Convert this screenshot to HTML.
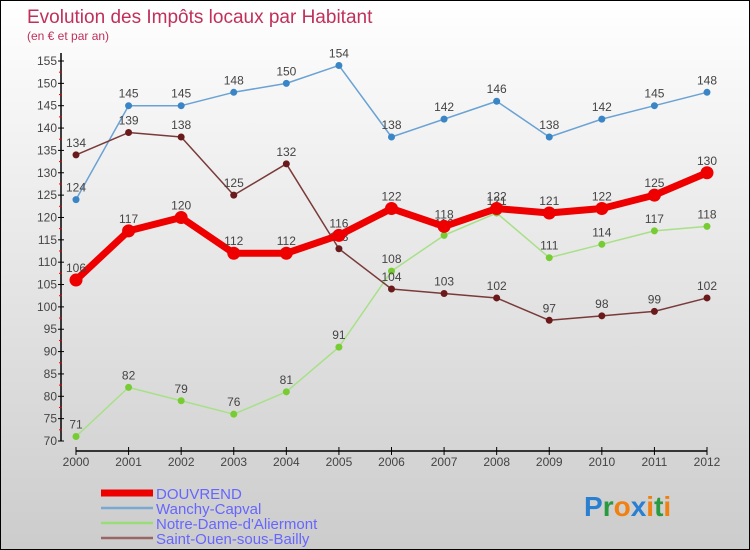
<!DOCTYPE html>
<html><head><meta charset="utf-8"><style>
body{margin:0;}
#wrap{width:750px;height:550px;position:relative;box-sizing:border-box;border:1px solid #000;background:linear-gradient(#ffffff,#f2f2f2 25%,#cccccc);font-family:"Liberation Sans",sans-serif;overflow:hidden;}
svg{position:absolute;left:0;top:0;}
</style></head><body>
<div id="wrap">
<svg id="chart" width="750" height="550">
<text x="26" y="22" font-size="19" fill="#c0305a">Evolution des Impôts locaux par Habitant</text>
<text x="26" y="39" font-size="12" fill="#c0305a">(en € et par an)</text>
<g id="axes"></g><g id="series"></g>
<g>
<line x1="100" y1="492" x2="152" y2="492" stroke="#ee0000" stroke-width="7"/>
<text x="155" y="498" font-size="15" fill="#6666ff">DOUVREND</text>
<line x1="100" y1="507" x2="152" y2="507" stroke="#7aa8d0" stroke-width="2.5"/>
<text x="155" y="513" font-size="15" fill="#6666ff">Wanchy-Capval</text>
<line x1="100" y1="522" x2="152" y2="522" stroke="#99dd77" stroke-width="2.5"/>
<text x="155" y="528" font-size="15" fill="#6666ff">Notre-Dame-d'Aliermont</text>
<line x1="100" y1="537" x2="152" y2="537" stroke="#996666" stroke-width="2.5"/>
<text x="155" y="543" font-size="15" fill="#6666ff">Saint-Ouen-sous-Bailly</text>
</g>
<g font-size="28" font-weight="bold">
<text x="583" y="515"><tspan fill="#2a7fd0">P</tspan><tspan fill="#2a9a40">r</tspan><tspan fill="#f08010">o</tspan><tspan fill="#2a7fd0">x</tspan><tspan fill="#f08010">i</tspan><tspan fill="#2a9a40">t</tspan><tspan fill="#f08010">i</tspan></text>
</g>
</svg>
</div>
<script>
const years=[2000,2001,2002,2003,2004,2005,2006,2007,2008,2009,2010,2011,2012];
const yTicks=[70,75,80,85,90,95,100,105,110,115,120,125,130,135,140,145,150,155];
const douvrend=[106,117,120,112,112,116,122,118,122,121,122,125,130];
const wanchy=[124,145,145,148,150,154,138,142,146,138,142,145,148];
const notreDame=[71,82,79,76,81,91,108,116,121,111,114,117,118];
const saintOuen=[134,139,138,125,132,113,104,103,102,97,98,99,102];
const NS="http://www.w3.org/2000/svg";
function xs(i){return 75+i*(706-75)/(years.length-1);}
function ys(v){return 440-(v-70)*(380/85);}
function mk(parent,tag,attrs){const e=document.createElementNS(NS,tag);for(const k in attrs)e.setAttribute(k,attrs[k]);parent.appendChild(e);return e;}
const ax=document.getElementById('axes');
let l=mk(ax,'line',{x1:60,y1:52,x2:60,y2:440,stroke:'#000','stroke-width':1.5});


l=mk(ax,'line',{x1:75,y1:450,x2:706,y2:450,stroke:'#000','stroke-width':1.5});


yTicks.forEach(v=>{
  const y=ys(v);
  mk(ax,'line',{x1:57,y1:y,x2:63,y2:y,stroke:'#000'});
  if(v<155)mk(ax,'line',{x1:58,y1:ys(v+2.5),x2:61,y2:ys(v+2.5),stroke:'#e00'});
  const t=mk(ax,'text',{x:56,y:y+4,'font-size':12,'text-anchor':'end',fill:'#444'});
  t.textContent=v;
  
  
});
years.forEach((yr,i)=>{
  const x=xs(i);
  mk(ax,'line',{x1:x,y1:446,x2:x,y2:454,stroke:'#000'});
  const t=mk(ax,'text',{x:x,y:465,'font-size':12,'text-anchor':'middle',fill:'#444'});
  t.textContent=yr;
  
  
});
const sg=document.getElementById('series');
function draw(data,name,color,dot,w,r){
  const g=mk(sg,'g',{});
  
  
  const p=mk(g,'polyline',{points:data.map((v,i)=>xs(i)+','+ys(v)).join(' '),fill:'none',stroke:color,'stroke-width':w,'stroke-linejoin':'round'});
  
  
  data.forEach((v,i)=>{
    const c=mk(g,'circle',{cx:xs(i),cy:ys(v),r:r,fill:dot});
    
    
    const t=mk(g,'text',{x:xs(i),y:ys(v)-8,'font-size':12,'text-anchor':'middle',fill:'#444'});
    t.textContent=v;
    
    
  });
}
draw(wanchy,'wanchy','#6aa2d4','#3a85c5',1.5,3.5);
draw(notreDame,'notre-dame','#a8e088','#77cc33',1.5,3.5);
draw(saintOuen,'saint-ouen','#7a3a3a','#6a1a1a',1.5,3.5);
draw(douvrend,'douvrend','#ee0000','#ee0000',7,6.5);
</script>
</body></html>
